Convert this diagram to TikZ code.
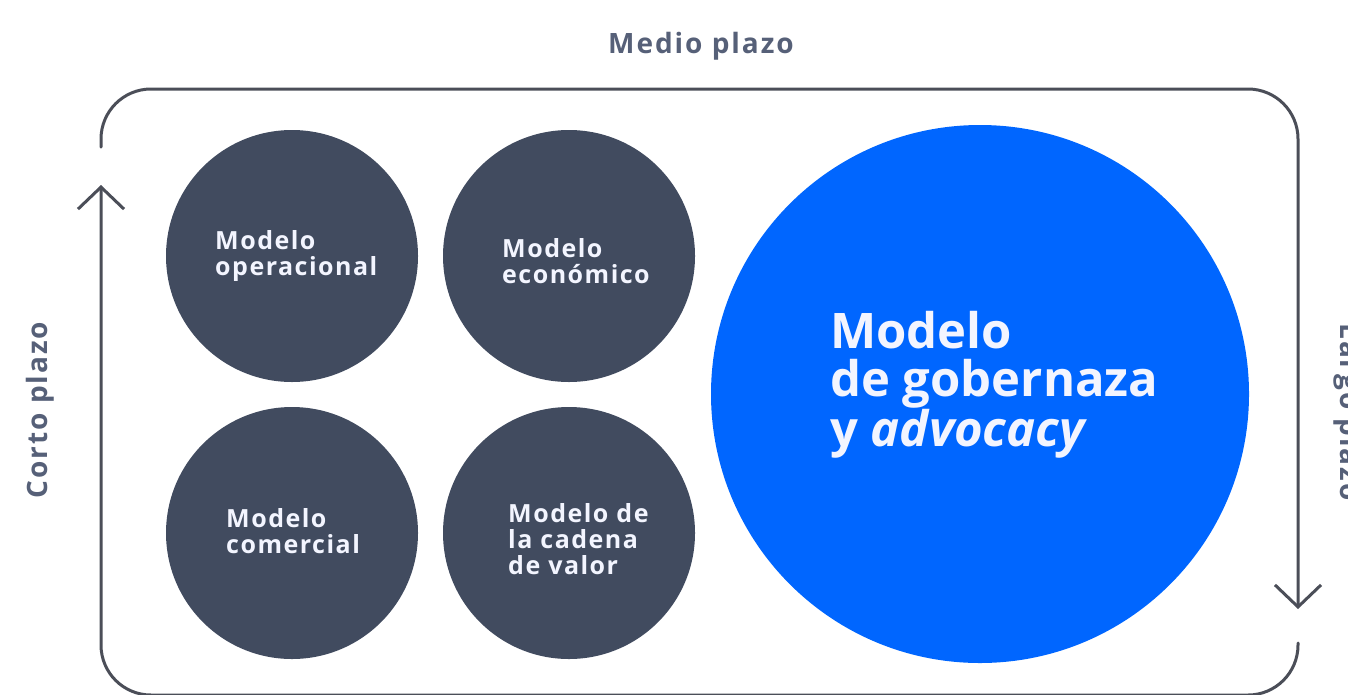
\documentclass[tikz,border=0pt]{standalone}
\usepackage{fontspec}
\setmainfont{Open Sans}
\usetikzlibrary{arrows.meta}
\definecolor{darkc}{HTML}{414B5F}
\definecolor{bluec}{HTML}{0066FF}
\definecolor{framec}{HTML}{4B4E58}
\definecolor{labelc}{HTML}{566078}
\definecolor{textc}{HTML}{F3F5FF}
\tikzset{
  frame/.style={draw=framec, line width=3pt, rounded corners=50pt, line cap=round,
    -{Straight Barb[length=22pt,width=46pt,line width=3pt]}},
  darkball/.style={circle, fill=darkc, minimum size=252pt, inner sep=0pt},
  blueball/.style={circle, fill=bluec, minimum size=538pt, inner sep=0pt},
  smalltext/.style={text=textc, inner sep=0pt, align=left, anchor=west,
    font=\fontsize{25}{26}\selectfont\bfseries\addfontfeature{LetterSpace=6}},
  bigtext/.style={text=textc, inner sep=0pt, align=left, anchor=west,
    font=\fontsize{49}{48.5}\selectfont\bfseries},
  sidelabel/.style={text=labelc, inner sep=0pt, anchor=base,
    font=\fontsize{28}{30}\selectfont\bfseries\addfontfeature{LetterSpace=7}}
}
\begin{document}
\begin{tikzpicture}[x=1pt,y=-1pt]
\useasboundingbox (0,0) rectangle (1348,694);
% frame
\coordinate (f1) at (101,147);
\coordinate (ftr) at (1298,89);
\coordinate (f2) at (1298,609);
\coordinate (f3) at (1298,643);
\coordinate (fbl) at (101,695);
\coordinate (f4) at (101,185);
\draw[frame] (f1) |- (ftr) -- (f2);
\draw[frame] (f3) |- (fbl) -- (f4);
% labels
\node[sidelabel] (medio) at (701,53) {Medio plazo};
\node[sidelabel, rotate=90] (corto) at (47,410) {Corto plazo};
\node[sidelabel, rotate=-90] (largo) at (1340,412) {Largo plazo};
% circles
\node[darkball] (c1) at (292,256) {};
\node[darkball] (c2) at (569,256) {};
\node[darkball] (c3) at (292,533) {};
\node[darkball] (c4) at (569,533) {};
\node[blueball] (c5) at (980,394) {};
% texts
\node[smalltext] (t1) at (215,256) {Modelo\\operacional};
\node[smalltext] (t2) at (502,261) {Modelo\\económico};
\node[smalltext] (t3) at (226,531) {Modelo\\comercial};
\node[smalltext] (t4) at (508,539) {Modelo de\\la cadena\\de valor};
\node[bigtext] (t5) at (830,385) {Modelo\\de gobernaza\\y \textit{advocacy}};
\end{tikzpicture}
\end{document}
